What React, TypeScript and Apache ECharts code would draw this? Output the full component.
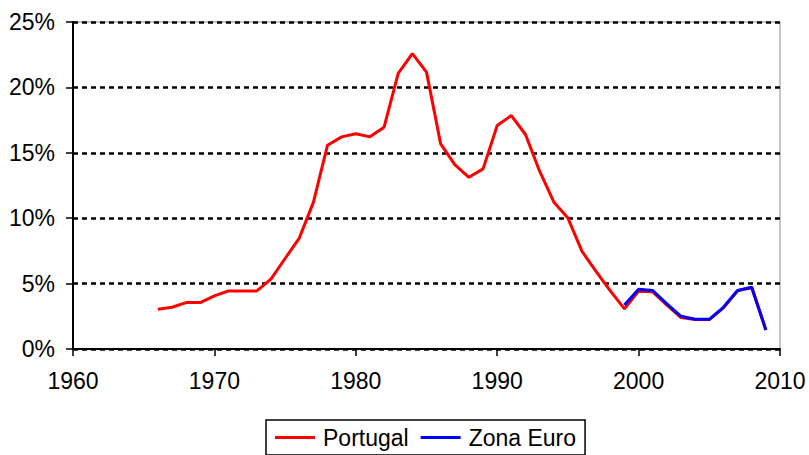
import React, { useEffect, useRef } from "react";
import * as echarts from "echarts";

const portugalYears = [
  1966, 1967, 1968, 1969, 1970, 1971, 1972, 1973, 1974, 1975, 1976, 1977, 1978, 1979, 1980,
  1981, 1982, 1983, 1984, 1985, 1986, 1987, 1988, 1989, 1990, 1991, 1992, 1993, 1994, 1995,
  1996, 1997, 1998, 1999, 2000, 2001, 2002, 2003, 2004, 2005, 2006, 2007, 2008, 2009,
];
const portugalValues = [
  3.04, 3.19, 3.55, 3.55, 4.06, 4.44, 4.44, 4.44, 5.34, 6.92, 8.48, 11.21, 15.58, 16.22, 16.45,
  16.22, 16.96, 21.07, 22.58, 21.17, 15.68, 14.1, 13.13, 13.77, 17.09, 17.85, 16.4, 13.59, 11.24, 10.01,
  7.46, 5.92, 4.44, 3.07, 4.42, 4.37, 3.35, 2.4, 2.25, 2.25, 3.15, 4.45, 4.7, 1.46,
];
const euroYears = [1999, 2000, 2001, 2002, 2003, 2004, 2005, 2006, 2007, 2008, 2009];
const euroValues = [3.37, 4.57, 4.47, 3.45, 2.5, 2.27, 2.27, 3.19, 4.47, 4.72, 1.46];

const xTicks = { min: 1960, max: 2010, interval: 10 };
const yTicks = { min: 0, max: 25, interval: 5 };
const seriesNames = ["Portugal", "Zona Euro"];

const FONT = "'Liberation Sans', Arial, sans-serif";

export default function App() {
  const ref = useRef<HTMLDivElement>(null);
  useEffect(() => {
    document.body.style.margin = "0";
    if (!ref.current) return;
    const chart = echarts.init(ref.current, null, { renderer: "svg" });
    chart.setOption({
      animation: false,
      backgroundColor: "#ffffff",
      textStyle: { fontFamily: FONT },
      grid: {
        left: 73,
        right: 29,
        top: 22,
        bottom: 106,
        show: true,
        borderColor: "#8c8c8c",
        borderWidth: 1,
        backgroundColor: "transparent",
      },
      legend: {
        data: seriesNames,
        left: 266,
        top: 420,
        orient: "horizontal",
        padding: [6, 9, 6, 9],
        borderColor: "#000",
        borderWidth: 1.5,
        itemGap: 12,
        itemWidth: 40,
        itemHeight: 3,
        icon: "rect",
        textStyle: { fontFamily: FONT, fontSize: 23, color: "#000", padding: [0, 0, 0, 3] },
      },
      xAxis: {
        type: "value",
        min: xTicks.min,
        max: xTicks.max,
        interval: xTicks.interval,
        axisLine: { show: true, onZero: false, lineStyle: { color: "#000", width: 2 } },
        axisTick: { show: true, inside: false, length: 7, lineStyle: { color: "#000", width: 1.5 } },
        axisLabel: {
          margin: 20,
          fontFamily: FONT,
          fontSize: 23,
          color: "#000",
          formatter: (v: number) => String(v),
        },
        splitLine: { show: false },
      },
      yAxis: {
        type: "value",
        min: yTicks.min,
        max: yTicks.max,
        interval: yTicks.interval,
        axisLine: { show: true, lineStyle: { color: "#000", width: 2 } },
        axisTick: { show: true, inside: false, length: 7, lineStyle: { color: "#000", width: 1.5 } },
        axisLabel: {
          margin: 18,
          fontFamily: FONT,
          fontSize: 23,
          color: "#000",
          formatter: (v: number) => `${v}%`,
        },
        splitLine: {
          show: true,
          lineStyle: { color: "#000", width: 2.5, type: [5, 4] },
        },
      },
      series: [
        {
          name: seriesNames[0],
          type: "line",
          data: portugalYears.map((y, i) => [y, portugalValues[i]]),
          symbol: "none",
          lineStyle: { color: "#ff0000", width: 3 },
          itemStyle: { color: "#ff0000" },
          z: 3,
        },
        {
          name: seriesNames[1],
          type: "line",
          data: euroYears.map((y, i) => [y, euroValues[i]]),
          symbol: "none",
          lineStyle: { color: "#0000ff", width: 3 },
          itemStyle: { color: "#0000ff" },
          z: 4,
        },
      ],
    });
    return () => chart.dispose();
  }, []);
  return (
    <div
      ref={ref}
      style={{ width: 809, height: 455, position: "absolute", left: 0, top: 0 }}
    />
  );
}
